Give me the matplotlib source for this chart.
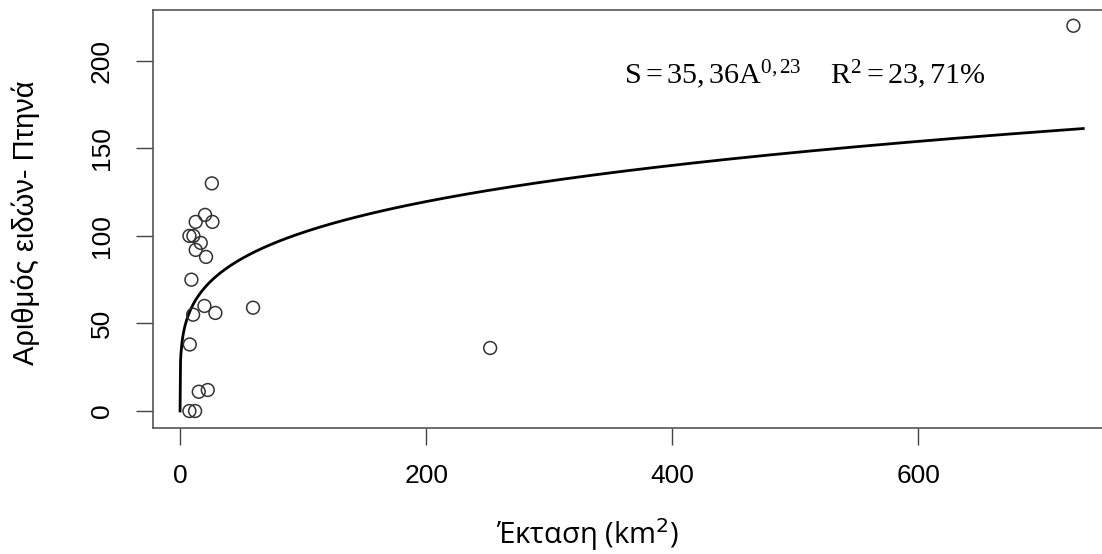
import numpy as np
import matplotlib
matplotlib.use("Agg")
import matplotlib.pyplot as plt

# Data (area km^2, number of bird species)
area = [25.8, 20.3, 12.7, 26.3, 7.6, 10.8, 16.8, 12.7, 21.1, 9.2, 19.8, 28.7,
        10.6, 59.3, 7.9, 15.2, 22.5, 7.6, 12.2, 252, 726]
species = [130, 112, 108, 108, 100, 100, 96, 92, 88, 75, 60, 56,
           55, 59, 38, 11, 12, 0, 0, 36, 220]
coef_c = 35.36
coef_z = 0.23
curve_max_area = 734
xticks = [0, 200, 400, 600]
yticks = [0, 50, 100, 150, 200]

plt.rcParams['mathtext.fontset'] = 'custom'
plt.rcParams['mathtext.rm'] = 'Liberation Serif'
plt.rcParams['mathtext.it'] = 'Liberation Serif:italic'

W, H = 1102, 554
fig = plt.figure(figsize=(W / 100, H / 100), dpi=100)
ax = fig.add_axes([153 / W, 126 / H, (1114 - 153) / W, 418 / H])

ax.scatter(area, species, s=85, facecolors='none', edgecolors='#333333',
           linewidths=1.1, zorder=3)

A = np.linspace(0, curve_max_area, 2000)
ax.plot(A, coef_c * A ** coef_z, color='black', lw=2.0, zorder=2)

ax.set_xlim(-22, 759)
ax.set_ylim(-9.7, 229)
ax.set_xticks(xticks)
ax.set_yticks(yticks)
ax.tick_params(axis='both', direction='out', length=12, width=1.0,
               color='#444444', labelsize=19)
ax.tick_params(axis='x', pad=14)
ax.tick_params(axis='y', pad=16)
for lab in ax.get_xticklabels() + ax.get_yticklabels():
    lab.set_family('Liberation Sans')
for lab in ax.get_yticklabels():
    lab.set_rotation(90)
    lab.set_va('center')
for sp in ax.spines.values():
    sp.set_color('#555555')
    sp.set_linewidth(1.2)

fig.text(26 / W, 1 - 223 / H, 'Αριθμός ειδών- Πτηνά', family='Liberation Sans',
         fontsize=21, rotation=90, ha='center', va='center')
t = fig.text(588 / W, 1 - 535 / H, 'Έκταση (km$^{2}$)', family='Open Sans',
             fontsize=21, ha='center', va='center')
t.set_math_fontfamily('dejavusans')

ax.text(0.49, 0.845,
        r'$\mathrm{S = 35,36A^{0,23}}\quad\ \mathrm{R^{2} = 23,71\%}$',
        transform=ax.transAxes, fontsize=21.7, ha='left', va='center')

fig.savefig('out.png', dpi=100)
